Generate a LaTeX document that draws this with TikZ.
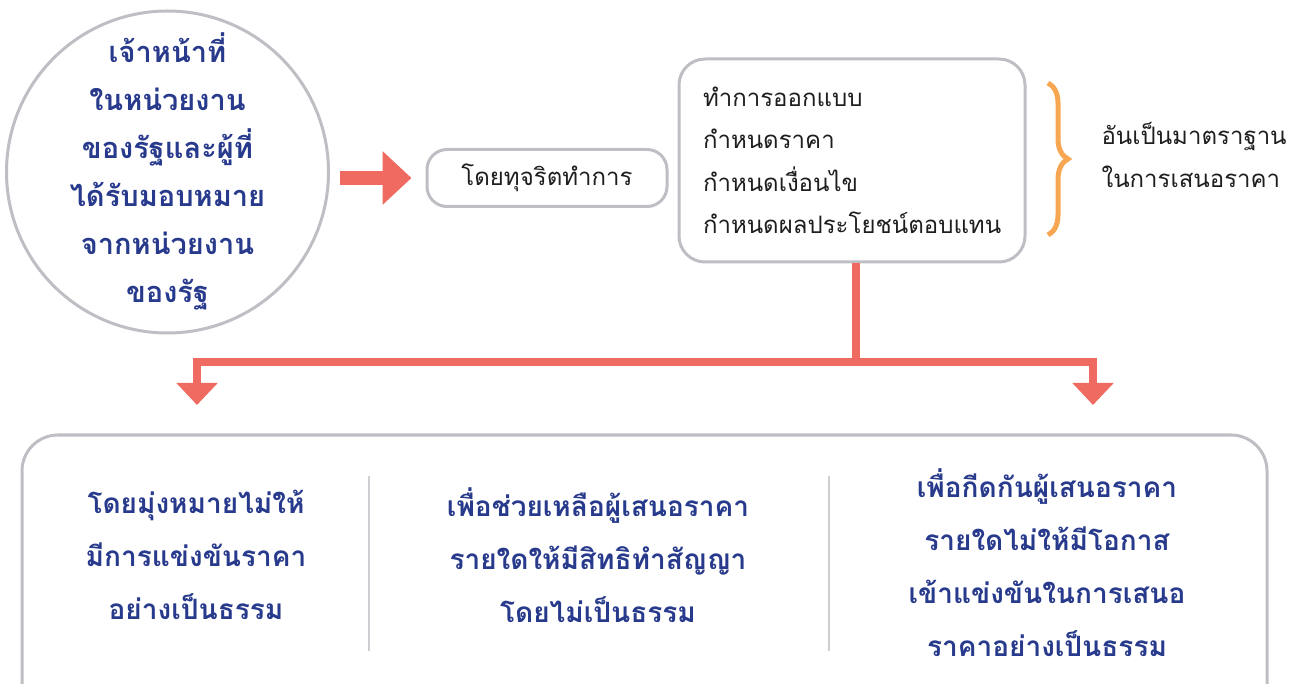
\documentclass[tikz,border=0pt]{standalone}
\usepackage{fontspec}
\usepackage{tikz}
\usetikzlibrary{arrows.meta,decorations.pathreplacing}
\newfontfamily\thaifont[Script=Thai]{Loma}
\definecolor{govblue}{RGB}{40,58,140}
\definecolor{flowred}{RGB}{239,106,96}
\definecolor{rimgray}{RGB}{190,190,196}
\definecolor{bracegold}{RGB}{247,166,82}
\definecolor{inkgray}{RGB}{30,30,30}
\newcommand{\flowwd}[0] {8pt}

\tikzset{
  rim/.style={draw=rimgray, line width=3pt},
  bluetext/.style={font={\thaifont\bfseries\fontsize{28}{53}\selectfont}, text=govblue, align=center},
  plaintext/.style={font={\thaifont\fontsize{24}{42.5}\selectfont}, text=inkgray},
  flow/.style={draw=flowred, line width=\flowwd},
  flowarrow/.style={flow, -{Triangle[length=22pt,width=40pt]}},
  divider/.style={draw=rimgray!75, line width=2pt}
}

\begin{document}
\begin{tikzpicture}[x=1pt, y=-1pt]
        \useasboundingbox (0,0) rectangle (1304,684);
        %top row
        \node[bluetext, font={\thaifont\bfseries\fontsize{29}{48}\selectfont}] (officer) at (167.5,171)
            {เจ้าหน้าที่\\ในหน่วยงาน\\ของรัฐและผู้ที่\\ได้รับมอบหมาย\\จากหน่วยงาน\\ของรัฐ};
        \draw[rim] (167.5,172) circle (161);
        \node[shape=rectangle, rim, rounded corners=20pt, minimum width=240pt, minimum height=57pt, plaintext] (fraud) at (547,178)
            {โดยทุจริตทำการ};
        \node[shape=rectangle, rim, rounded corners=26pt, minimum width=346pt, minimum height=203pt,
              text width=298pt, inner xsep=24pt, align=left, plaintext] (tasks) at (852,160.5)
            {ทำการออกแบบ\\กำหนดราคา\\กำหนดเงื่อนไข\\กำหนดผลประโยชน์ตอบแทน};
        \node[anchor=west, align=left, plaintext] (standard) at (1098,155)
            {อันเป็นมาตราฐาน\\ในการเสนอราคา};
        %brace ends
        \coordinate (bracetop) at (1048,83);
        \coordinate (bracebot) at (1048,235);
        \draw[draw=bracegold, line width=5pt, decorate, decoration={brace, amplitude=20pt}] (bracetop) -- (bracebot);
        %arrow into the first box
        \draw[draw=flowred, line width=14pt, -{Triangle[length=29pt,width=52pt]}] ([xshift=-86pt]fraud.west) -- ([xshift=-14pt]fraud.west);
        %bottom row
        \node[shape=rectangle, rim, rounded corners=36pt, minimum width=1245pt, minimum height=290pt] (aims) at (644.5,580) {};
        \node[bluetext] (aim1) at (196,555) {โดยมุ่งหมายไม่ให้\\มีการแข่งขันราคา\\อย่างเป็นธรรม};
        \node[bluetext] (aim2) at (598,555) {เพื่อช่วยเหลือผู้เสนอราคา\\รายใดให้มีสิทธิทำสัญญา\\โดยไม่เป็นธรรม};
        \node[bluetext] (aim3) at (1047,563) {เพื่อกีดกันผู้เสนอราคา\\รายใดไม่ให้มีโอกาส\\เข้าแข่งขันในการเสนอ\\ราคาอย่างเป็นธรรม};
        \coordinate (sep1top) at (369,476);
        \coordinate (sep1bot) at (369,651);
        \coordinate (sep2top) at (829,476);
        \coordinate (sep2bot) at (829,651);
        \path[divider] (sep1top) edge (sep1bot);
        \path[divider] (sep2top) edge (sep2bot);
        %split connector
        \coordinate (fork) at (856,362);
        \coordinate (leftturn) at (197,362);
        \coordinate (rightturn) at (1093,362);
        \coordinate (lefttip) at (197,405);
        \coordinate (righttip) at (1093,405);
        \draw[flow] (tasks.south -| fork) -- ([yshift=-4pt]fork);
        \draw[flowarrow] (fork) -- (leftturn) -- (lefttip);
        \draw[flowarrow] (fork) -- (rightturn) -- (righttip);
\end{tikzpicture}
\end{document}
